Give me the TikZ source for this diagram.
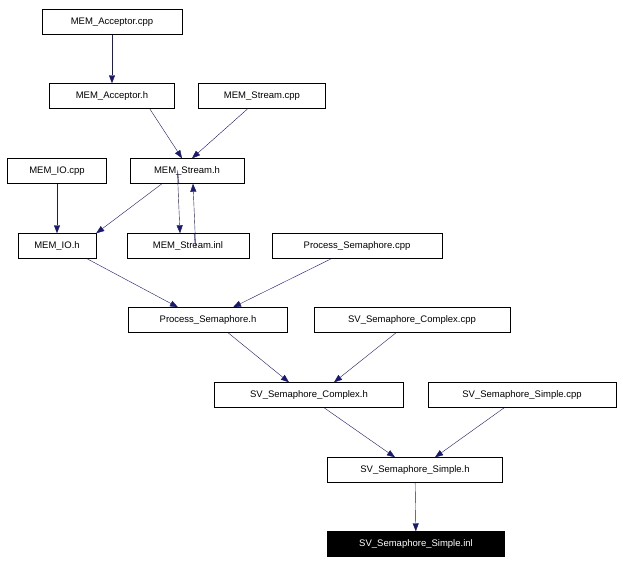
\documentclass[tikz,border=0pt]{standalone}
\usepackage{fontspec}
\setmainfont{Liberation Sans}
\usetikzlibrary{arrows.meta}
\definecolor{edge}{RGB}{25,25,112}
\begin{document}
\begin{tikzpicture}[x=1pt,y=-1pt,
  box/.style={draw,thin,minimum height=25pt,inner sep=0pt,font=\fontsize{9.5}{11}\selectfont},
  dep/.style={draw=edge,-{Triangle[length=8pt,width=6pt,fill=edge]}}]
\useasboundingbox (0,0) rectangle (623,563);
\node[box,minimum width=140] (a) at (112,22) {MEM\_Acceptor.cpp};
\node[box,minimum width=125] (b) at (112,96) {MEM\_Acceptor.h};
\node[box,minimum width=127] (c) at (262,96) {MEM\_Stream.cpp};
\node[box,minimum width=99] (d) at (57,171) {MEM\_IO.cpp};
\node[box,minimum width=114] (e) at (187,171) {MEM\_Stream.h};
\node[box,minimum width=78] (f) at (57,246) {MEM\_IO.h};
\node[box,minimum width=122] (g) at (188,246) {MEM\_Stream.inl};
\node[box,minimum width=170] (h) at (357,246) {Process\_Semaphore.cpp};
\node[box,minimum width=159] (i) at (208,320) {Process\_Semaphore.h};
\node[box,minimum width=196] (j) at (412,320) {SV\_Semaphore\_Complex.cpp};
\node[box,minimum width=189] (k) at (309,395) {SV\_Semaphore\_Complex.h};
\node[box,minimum width=188] (l) at (522,395) {SV\_Semaphore\_Simple.cpp};
\node[box,minimum width=175] (m) at (415,470) {SV\_Semaphore\_Simple.h};
\node[box,minimum width=177,fill=black,text=white] (n) at (416,544) {SV\_Semaphore\_Simple.inl};
\draw[dep] (a) -- (b);
\draw[dep] (b.south east) ++(-25,0) coordinate (b1) (b1) -- ([xshift=-5]e.north);
\draw[dep] (c) -- ([xshift=5]e.north);
\draw[dep] (d) -- (f);
\draw[dep] ([xshift=-25]e.south) -- (f.north east);
\draw[dep] ([xshift=-8]e.south) .. controls ([xshift=-10,yshift=20]e.south) .. ([xshift=-8]g.north);
\draw[dep] ([xshift=6]g.north) .. controls ([xshift=8,yshift=-20]g.north) .. ([xshift=6]e.south);
\draw[dep] ([xshift=30]f.south) -- ([xshift=-30]i.north);
\draw[dep] (h) -- ([xshift=25]i.north);
\draw[dep] ([xshift=20]i.south) -- ([xshift=-20]k.north);
\draw[dep] (j) -- ([xshift=25]k.north);
\draw[dep] ([xshift=15]k.south) -- ([xshift=-20]m.north);
\draw[dep] (l) -- ([xshift=20]m.north);
\draw[dep] (m) -- (n);
\end{tikzpicture}
\end{document}
